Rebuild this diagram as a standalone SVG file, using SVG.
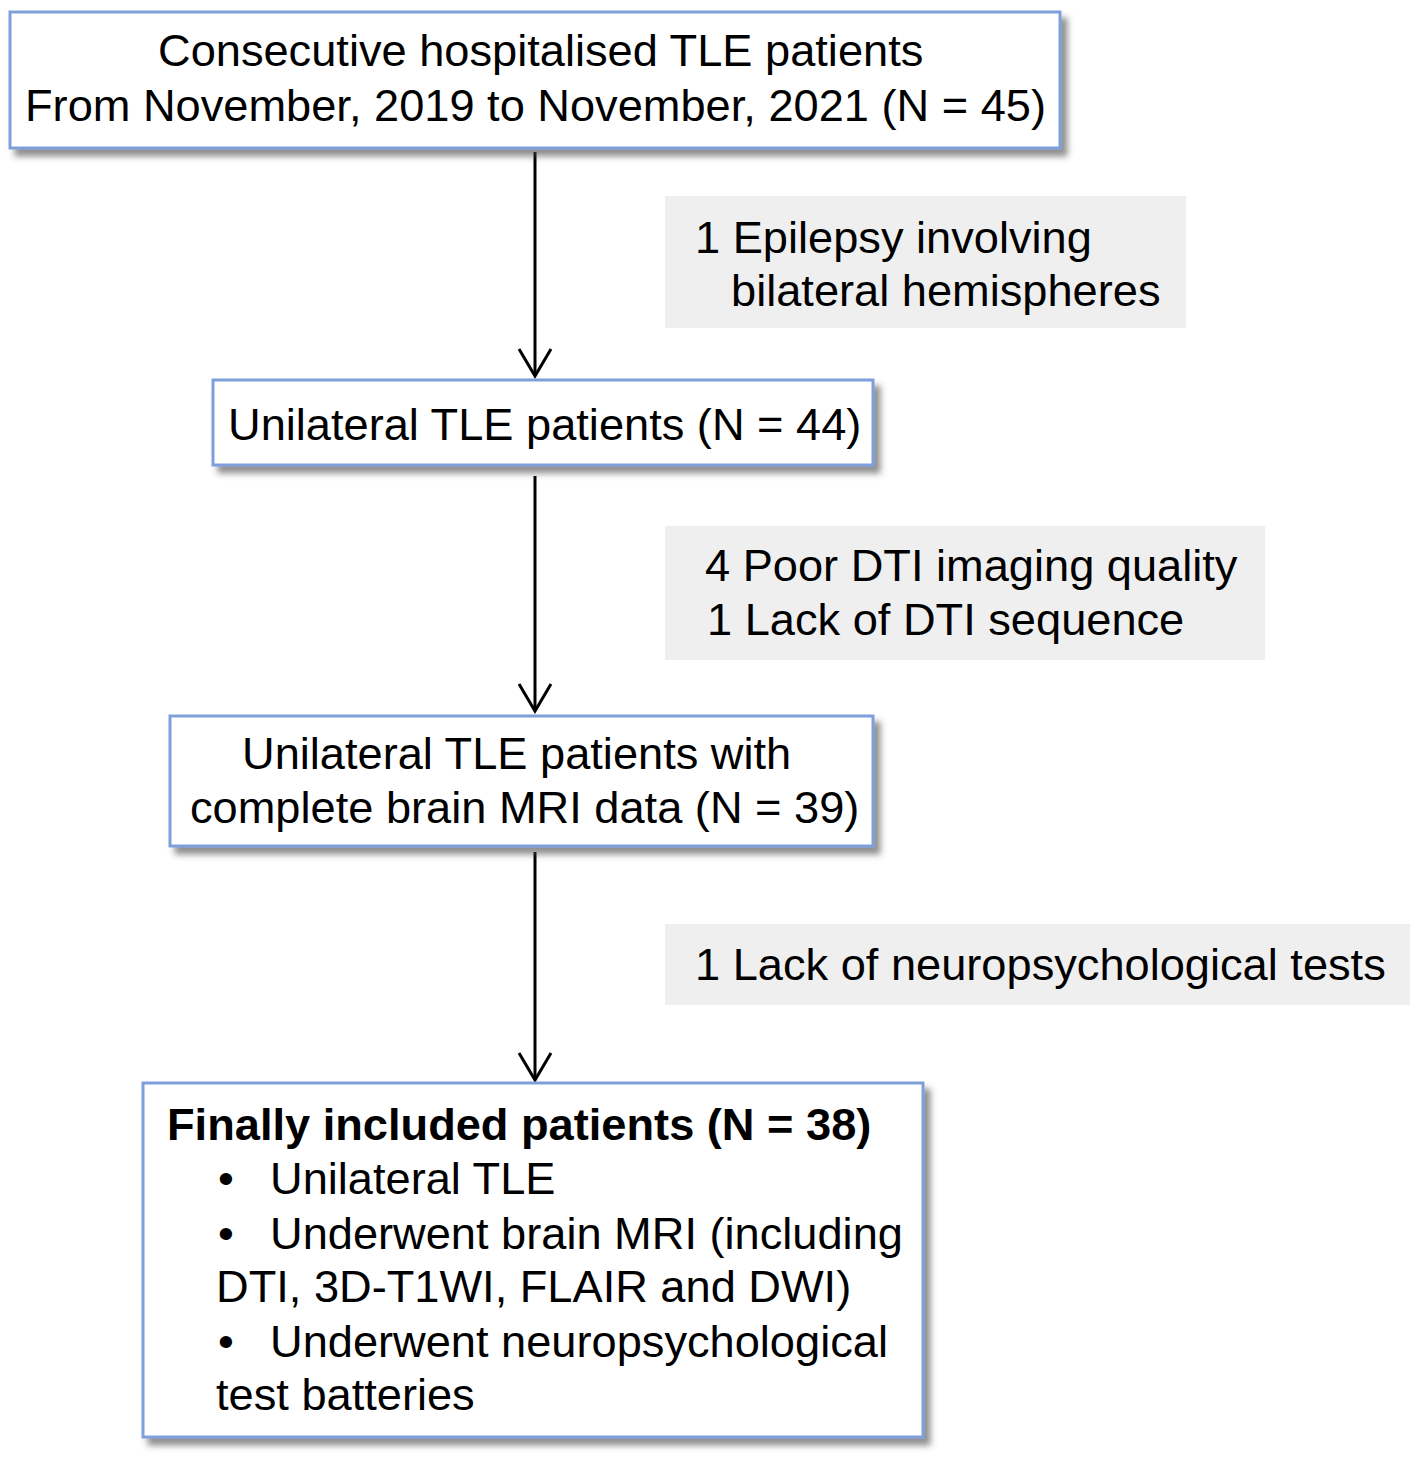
<svg xmlns="http://www.w3.org/2000/svg" width="1418" height="1463" viewBox="0 0 1418 1463">
<defs>
<filter id="sh" x="-5%" y="-5%" width="115%" height="125%">
<feDropShadow dx="6" dy="7" stdDeviation="3" flood-color="#444" flood-opacity="0.6"/>
</filter>
</defs>
<style>
.box{fill:#fff;stroke:#7f9fdc;stroke-width:3;filter:url(#sh)}
.note{fill:#efefef}
text{font-family:"Liberation Sans",Arial,sans-serif;font-size:45.2px;fill:#000}
.b{font-weight:bold}
.conn{stroke:#000;stroke-width:3;fill:none}
</style>
<rect width="1418" height="1463" fill="#fff"/>
<g id="connectors">
<line class="conn" x1="535" y1="152" x2="535" y2="376"/>
<polyline class="conn" points="519,349 535,376 551,349"/>
<line class="conn" x1="535" y1="476" x2="535" y2="711"/>
<polyline class="conn" points="519,684 535,711 551,684"/>
<line class="conn" x1="535" y1="852" x2="535" y2="1080"/>
<polyline class="conn" points="519,1053 535,1080 551,1053"/>
</g>
<g id="node1">
<rect class="box" x="10" y="12" width="1050" height="136"/>
<text x="158" y="66">Consecutive hospitalised TLE patients</text>
<text x="25" y="121">From November, 2019 to November, 2021 (N = 45)</text>
</g>
<g id="excl1">
<rect class="note" x="665" y="196" width="521" height="132"/>
<text x="695" y="253">1 Epilepsy involving</text>
<text x="731" y="306">bilateral hemispheres</text>
</g>
<g id="node2">
<rect class="box" x="213" y="380" width="660" height="85"/>
<text x="228" y="440">Unilateral TLE patients (N = 44)</text>
</g>
<g id="excl2">
<rect class="note" x="665" y="526" width="600" height="134"/>
<text x="705" y="581">4 Poor DTI imaging quality</text>
<text x="707" y="635">1 Lack of DTI sequence</text>
</g>
<g id="node3">
<rect class="box" x="170" y="716" width="703" height="130"/>
<text x="242" y="769">Unilateral TLE patients with</text>
<text x="190" y="823">complete brain MRI data (N = 39)</text>
</g>
<g id="excl3">
<rect class="note" x="665" y="924" width="745" height="81"/>
<text x="695" y="980">1 Lack of neuropsychological tests</text>
</g>
<g id="node4">
<rect class="box" x="143" y="1083" width="780" height="354"/>
<text class="b" x="167" y="1140">Finally included patients (N = 38)</text>
<text x="218" y="1194">•</text>
<text x="270" y="1194">Unilateral TLE</text>
<text x="218" y="1249">•</text>
<text x="270" y="1249">Underwent brain MRI (including</text>
<text x="216" y="1302">DTI, 3D-T1WI, FLAIR and DWI)</text>
<text x="218" y="1357">•</text>
<text x="270" y="1357">Underwent neuropsychological</text>
<text x="216" y="1410">test batteries</text>
</g>
</svg>
